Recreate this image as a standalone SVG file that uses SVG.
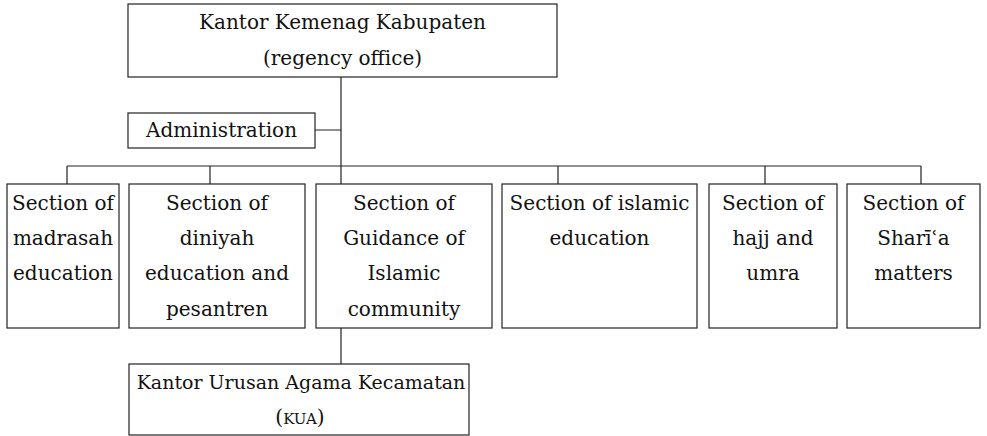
<svg xmlns="http://www.w3.org/2000/svg" width="987" height="436" viewBox="0 0 987 436">
<style>
.box{fill:#fff;stroke:#222;stroke-width:1.2}
.t{font-size:20px;fill:#111;text-anchor:middle}
.c{fill:none;stroke:#222;stroke-width:1.2}
</style>
<rect width="987" height="436" fill="#fff"/>
<g id="connectors">
<path class="c" d="M341 77V328M315 130H341M67 166H921M67 166V184M210 166V184M558 166V184M765 166V184M921 166V184M341 328V364"/>
</g>
<g font-family="'DejaVu Serif', serif">
<g id="n-regency"><rect class="box" x="128" y="4" width="429" height="73"/>
<text class="t" x="342.5" y="29">Kantor Kemenag Kabupaten</text>
<text class="t" x="342.5" y="65">(regency office)</text></g>
<g id="n-admin"><rect class="box" x="128" y="113" width="187" height="35"/>
<text class="t" x="221.5" y="137">Administration</text></g>
<g id="n-madrasah"><rect class="box" x="7" y="184" width="112" height="144"/>
<text class="t" x="63" y="210">Section of</text><text class="t" x="63" y="245">madrasah</text><text class="t" x="63" y="280">education</text></g>
<g id="n-diniyah"><rect class="box" x="129" y="184" width="176" height="144"/>
<text class="t" x="217" y="210">Section of</text><text class="t" x="217" y="245">diniyah</text><text class="t" x="217" y="280">education and</text><text class="t" x="217" y="316">pesantren</text></g>
<g id="n-guidance"><rect class="box" x="316" y="184" width="176" height="144"/>
<text class="t" x="404" y="210">Section of</text><text class="t" x="404" y="245">Guidance of</text><text class="t" x="404" y="280">Islamic</text><text class="t" x="404" y="316">community</text></g>
<g id="n-islamic"><rect class="box" x="502" y="184" width="195" height="144"/>
<text class="t" x="599.5" y="210">Section of islamic</text><text class="t" x="599.5" y="245">education</text></g>
<g id="n-hajj"><rect class="box" x="709" y="184" width="128" height="144"/>
<text class="t" x="773" y="210">Section of</text><text class="t" x="773" y="245">hajj and</text><text class="t" x="773" y="280">umra</text></g>
<g id="n-sharia"><rect class="box" x="847" y="184" width="133" height="144"/>
<text class="t" x="913.5" y="210">Section of</text><text class="t" x="913.5" y="245">Sharīʿa</text><text class="t" x="913.5" y="280">matters</text></g>
<g id="n-kua"><rect class="box" x="129" y="364" width="340" height="71"/>
<text class="t" x="301" y="389" style="font-size:19px">Kantor Urusan Agama Kecamatan</text>
<text class="t" x="300" y="424">(<tspan font-size="15">KUA</tspan>)</text></g>
</g>
</svg>
